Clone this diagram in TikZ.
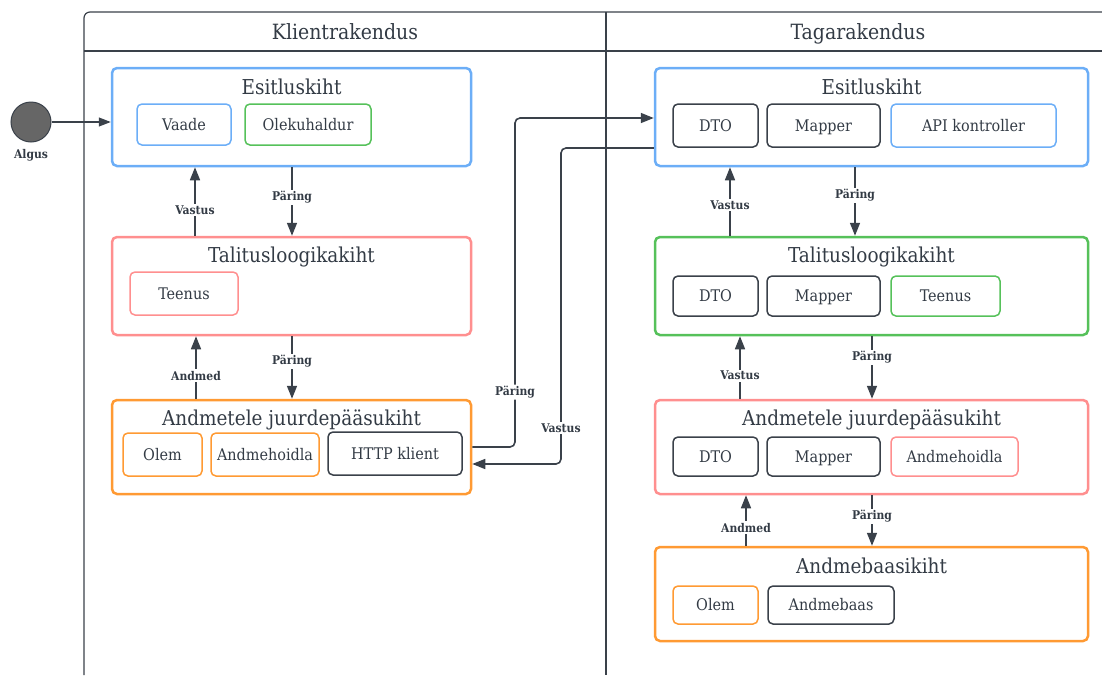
\documentclass[tikz,border=0pt]{standalone}
\usepackage{fontspec}
\setmainfont{DejaVu Serif Condensed}
\usetikzlibrary{arrows.meta}
\definecolor{lineC}{HTML}{3A414A}
\definecolor{textC}{HTML}{333B45}
\definecolor{blueC}{HTML}{6CAEF7}
\definecolor{greenC}{HTML}{56C15A}
\definecolor{pinkC}{HTML}{FF8F8F}
\definecolor{orangeC}{HTML}{FF9A33}
\definecolor{startC}{HTML}{666666}
\tikzset{
  layer/.style={draw=#1, line width=2.5pt, rounded corners=5pt, inner sep=0pt},
  item/.style={draw=#1, line width=1.5pt, rounded corners=5pt, inner sep=0pt,
    font=\fontsize{16}{19}\selectfont, text=textC, text height=11pt, text depth=0pt},
  ttl/.style={font=\fontsize{20.5}{24}\selectfont, text=textC, inner sep=0pt, text height=15pt, text depth=0pt},
  hdr/.style={font=\fontsize{21}{25}\selectfont, text=textC, inner sep=0pt, text height=15.5pt, text depth=0pt},
  lbl/.style={font=\bfseries\fontsize{12}{14}\selectfont, fill=white, inner sep=1.5pt, text=textC},
  arr/.style={draw=lineC, line width=1.6pt, -{Triangle[length=13pt,width=10pt]}},
  pool/.style={draw=lineC, line width=1.2pt},
}
\begin{document}
\begin{tikzpicture}[x=1pt,y=-1pt]
\useasboundingbox (0,0) rectangle (1102,675);
% pool
\draw[pool] (84,675) [rounded corners=6pt] -- (84,12) -- (1102,12);
\draw[pool] (84,51) -- (1102,51);
\draw[pool] (606,12) -- (606,675);
\node[hdr] (h1) at (345,32) {Klientrakendus};
\node[hdr] (h2) at (858,32) {Tagarakendus};
% start
\node[circle, minimum size=40pt, inner sep=0pt, fill=startC, draw=lineC, line width=1pt] (st) at (31,122) {};
\node[font=\bfseries\fontsize{12}{14}\selectfont, text=textC] (stl) at (31,155) {Algus};
% client layers
\node[layer=blueC, minimum width=359pt, minimum height=98pt] (cE) at (291.5,117) {};
\node[ttl] (cEt) at (291.5,87) {Esitluskiht};
\node[item=blueC, minimum width=94pt, minimum height=41pt] (cV) at (184,124.5) {Vaade};
\node[item=greenC, minimum width=126pt, minimum height=41pt] (cO) at (308,124.5) {Olekuhaldur};

\node[layer=pinkC, minimum width=359pt, minimum height=98pt] (cT) at (291.5,286) {};
\node[ttl] (cTt) at (291.5,255) {Talitusloogikakiht};
\node[item=pinkC, minimum width=108pt, minimum height=43pt] (cTe) at (184,293.5) {Teenus};

\node[layer=orangeC, minimum width=359pt, minimum height=94pt] (cA) at (291.5,447) {};
\node[ttl] (cAt) at (291.5,418) {Andmetele juurdepääsukiht};
\node[item=orangeC, minimum width=79pt, minimum height=43pt] (cOl) at (162.5,454.5) {Olem};
\node[item=orangeC, minimum width=108pt, minimum height=43pt] (cAh) at (265,454.5) {Andmehoidla};
\node[item=lineC, minimum width=134pt, minimum height=43pt] (cH) at (395,453.5) {HTTP klient};

% backend layers
\node[layer=blueC, minimum width=433pt, minimum height=98pt] (bE) at (871.5,117) {};
\node[ttl] (bEt) at (871.5,87) {Esitluskiht};
\node[item=lineC, minimum width=85pt, minimum height=43pt] (bE1) at (715.5,125.5) {DTO};
\node[item=lineC, minimum width=113pt, minimum height=43pt] (bE2) at (823.5,125.5) {Mapper};
\node[item=blueC, minimum width=165pt, minimum height=43pt] (bE3) at (973.5,125.5) {API kontroller};

\node[layer=greenC, minimum width=433pt, minimum height=98pt] (bT) at (871.5,286) {};
\node[ttl] (bTt) at (871.5,255) {Talitusloogikakiht};
\node[item=lineC, minimum width=85pt, minimum height=40pt] (bT1) at (715.5,296) {DTO};
\node[item=lineC, minimum width=113pt, minimum height=40pt] (bT2) at (823.5,296) {Mapper};
\node[item=greenC, minimum width=109pt, minimum height=40pt] (bT3) at (945.5,296) {Teenus};

\node[layer=pinkC, minimum width=433pt, minimum height=94pt] (bA) at (871.5,447) {};
\node[ttl] (bAt) at (871.5,418) {Andmetele juurdepääsukiht};
\node[item=lineC, minimum width=85pt, minimum height=39pt] (bA1) at (715.5,456.5) {DTO};
\node[item=lineC, minimum width=113pt, minimum height=39pt] (bA2) at (823.5,456.5) {Mapper};
\node[item=pinkC, minimum width=127pt, minimum height=39pt] (bA3) at (954.5,456.5) {Andmehoidla};

\node[layer=orangeC, minimum width=433pt, minimum height=94pt] (bD) at (871.5,594) {};
\node[ttl] (bDt) at (871.5,566) {Andmebaasikiht};
\node[item=orangeC, minimum width=85pt, minimum height=38pt] (bD1) at (715.5,605) {Olem};
\node[item=lineC, minimum width=126pt, minimum height=38pt] (bD2) at (831,605) {Andmebaas};

% start arrow
\draw[draw=lineC, line width=1.2pt, -{Triangle[length=12pt,width=9pt]}] (st.east) -- ([yshift=-5pt]cE.west);

% client arrows
\draw[arr] ([xshift=-96.5pt]cT.north) -- node[lbl, pos=0.38] (l1) {Vastus} ([xshift=-96.5pt]cE.south);
\draw[arr] ([xshift=0.5pt]cE.south) -- node[lbl, pos=0.44] (l2) {Päring} ([xshift=0.5pt]cT.north);
\draw[arr] ([xshift=-95.5pt]cA.north) -- node[lbl, pos=0.37] (l3) {Andmed} ([xshift=-95.5pt]cT.south);
\draw[arr] ([xshift=0.5pt]cT.south) -- node[lbl, pos=0.4] (l4) {Päring} ([xshift=0.5pt]cA.north);

% backend arrows
\draw[arr] ([xshift=-141.5pt]bT.north) -- node[lbl, pos=0.45] (l5) {Vastus} ([xshift=-141.5pt]bE.south);
\draw[arr] ([xshift=-16.5pt]bE.south) -- node[lbl, pos=0.41] (l6) {Päring} ([xshift=-16.5pt]bT.north);
\draw[arr] ([xshift=-131.5pt]bA.north) -- node[lbl, pos=0.37] (l7) {Vastus} ([xshift=-131.5pt]bT.south);
\draw[arr] ([xshift=0.5pt]bT.south) -- node[lbl, pos=0.34] (l8) {Päring} ([xshift=0.5pt]bA.north);
\draw[arr] ([xshift=-125.5pt]bD.north) -- node[lbl, pos=0.36] (l9) {Andmed} ([xshift=-125.5pt]bA.south);
\draw[arr] ([xshift=0.5pt]bA.south) -- node[lbl, pos=0.42] (l10) {Päring} ([xshift=0.5pt]bD.north);

% cross arrows
\draw[arr, rounded corners=5pt] (cA.east) -- (515,447) -- node[lbl, pos=0.167] (l11) {Päring} (515,118) -- ([yshift=-1pt]bE.west);
\draw[arr, rounded corners=5pt] ([yshift=-31pt]bE.west) -- (561,148) -- node[lbl, pos=0.886] (l12) {Vastus} (561,464) -- ([yshift=-17pt]cA.east);
\end{tikzpicture}
\end{document}
